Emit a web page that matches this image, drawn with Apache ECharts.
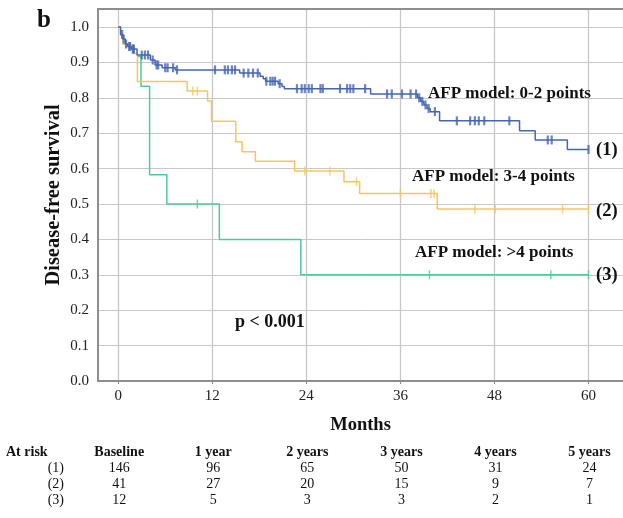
<!DOCTYPE html>
<html>
<head>
<meta charset="utf-8">
<script src="https://cdn.jsdelivr.net/npm/echarts@6/dist/echarts.min.js"></script>
<style>
  html, body { margin: 0; padding: 0; background: #fff; }
  #main { width: 623px; height: 518px; }
</style>
</head>
<body>
<div id="main"></div>
<script>
// month ticks and at-risk table
const months = [0, 12, 24, 36, 48, 60];
const riskHeaders = ["Baseline", "1 year", "2 years", "3 years", "4 years", "5 years"];
const riskLabels = ["(1)", "(2)", "(3)"];
const atRisk1 = [146, 96, 65, 50, 31, 24];
const atRisk2 = [41, 27, 20, 15, 9, 7];
const atRisk3 = [12, 5, 3, 3, 2, 1];

// KM steps [month, survival after the drop]
const steps1 = [
  [0, 1.0], [0.3, 0.979], [0.6, 0.966], [0.9, 0.952], [1.2, 0.945], [1.7, 0.938],
  [2.4, 0.921], [4.1, 0.907], [4.7, 0.893], [5.6, 0.885], [7.3, 0.879],
  [15.5, 0.870], [18.1, 0.861], [18.5, 0.854], [18.8, 0.847], [20.4, 0.840],
  [20.9, 0.832], [21.2, 0.826], [32.2, 0.811], [38.2, 0.800], [38.6, 0.790],
  [39.0, 0.780], [39.4, 0.770], [39.8, 0.761], [41.0, 0.735], [51.2, 0.707],
  [53.2, 0.681], [57.3, 0.654], [60, 0.654]
];
const steps2 = [
  [0, 1.0], [0.3, 0.976], [0.6, 0.951], [1.75, 0.925], [2.45, 0.846], [8.8, 0.819],
  [11.4, 0.791], [11.9, 0.734], [15.0, 0.676], [15.8, 0.648], [17.5, 0.621],
  [22.5, 0.593], [28.8, 0.563], [30.8, 0.530], [40.7, 0.486], [60, 0.486]
];
// green curve is only visible from about month 2.4 in the figure
const steps3 = [
  [2.4, 0.917], [2.9, 0.833], [4.0, 0.583], [6.2, 0.5], [12.9, 0.4],
  [23.3, 0.3], [60, 0.3]
];

// censored times
const censor1 = [
  0.5, 0.7, 1.0, 1.4, 1.5, 1.9, 2.0, 3.0, 3.4, 3.8, 4.4, 4.9, 5.1, 6.0, 6.3, 7.0, 7.5,
  12.35, 13.6, 14.0, 14.5, 14.9, 16.0, 16.6, 17.2, 17.8, 18.9, 19.4, 19.7, 20.0, 20.6,
  22.8, 23.4, 23.8, 24.3, 24.7, 25.8, 26.1, 28.3, 29.2, 29.6, 30.0, 31.5, 34.3, 34.9,
  36.2, 37.3, 38.0, 38.4, 38.8, 39.2, 39.6, 40.4, 43.2, 44.9, 45.5, 46.0, 46.7, 49.9,
  54.8, 55.3, 60.0
];
const censor2 = [9.5, 10.1, 23.8, 27.0, 30.4, 36.0, 39.9, 40.3, 45.5, 48.1, 56.7, 60.0];
const censor3 = [10.1, 39.7, 55.2, 60.0];

const BLUE = "#4565b1";
const YELLOW = "#f7c65a";
const GREEN = "#4ec99a";
const AXIS = "#8e8e8e";
const FONT = "Liberation Serif";
const X_MIN = -2.58, X_MAX = 64.4;

const survAt = (steps, t) => {
  let v = steps[0][1];
  steps.forEach((s) => {
    if (s[0] <= t) v = s[1];
  });
  return v;
};

const tickPath = "path://M0,0L1,0L1,10L0,10Z";

const stepSeries = (steps, color) => ({
  type: "line",
  step: "end",
  data: steps,
  symbol: "none",
  lineStyle: { color: color, width: 1.5 },
  z: 3,
});
const censorSeries = (times, steps, color, w) => ({
  type: "scatter",
  data: times.map((t) => [t, survAt(steps, t)]),
  symbol: tickPath,
  symbolSize: [w, 9],
  itemStyle: { color: color },
  z: 4,
});

const txt = (x, y, text, opt) => ({
  type: "text",
  x: x,
  y: y,
  style: Object.assign(
    { text: text, fontFamily: FONT, fontSize: 15, fill: "#111", align: "left", verticalAlign: "middle" },
    opt || {}
  ),
});

let chart = echarts.init(document.getElementById("main"));
let option = {
  animation: false,
  backgroundColor: "#fff",
  grid: { left: 98, top: 9, right: 0, bottom: 137 },
  xAxis: [
    {
      type: "value",
      min: X_MIN,
      max: X_MAX,
      name: "Months",
      nameLocation: "middle",
      nameGap: 35,
      nameTextStyle: { fontFamily: FONT, fontSize: 18.5, fontWeight: "bold", color: "#111" },
      axisLine: { show: true, onZero: false, lineStyle: { color: AXIS, width: 2 } },
      axisTick: { show: true, length: 3, customValues: months, lineStyle: { color: AXIS } },
      axisLabel: { customValues: months, margin: 8, fontFamily: FONT, fontSize: 15, color: "#222" },
      splitLine: { show: true, lineStyle: { color: "#c8c8c8", width: 1.3 } },
    },
    {
      type: "value",
      position: "top",
      min: X_MIN,
      max: X_MAX,
      axisLine: { show: true, onZero: false, lineStyle: { color: AXIS, width: 2 } },
      axisTick: { show: false },
      axisLabel: { show: false },
      splitLine: { show: false },
    },
  ],
  yAxis: {
    type: "value",
    min: 0,
    max: 1.051,
    interval: 0.1,
    name: "Disease-free survival",
    nameLocation: "middle",
    nameGap: 34,
    nameMoveOverlap: false,
    nameTextStyle: { fontFamily: FONT, fontSize: 20.5, fontWeight: "bold", color: "#111" },
    axisLine: { show: true, onZero: false, lineStyle: { color: AXIS, width: 2 } },
    axisTick: { show: false },
    axisLabel: {
      margin: 9, fontFamily: FONT, fontSize: 15, color: "#222",
      formatter: (v) => (v > 1.0001 ? "" : v.toFixed(1)),
    },
    splitLine: { show: true, lineStyle: { color: "#c8c8c8", width: 1 } },
  },
  series: [
    stepSeries(steps3, GREEN),
    stepSeries(steps2, YELLOW),
    stepSeries(steps1, BLUE),
    censorSeries(censor3, steps3, GREEN, 1.5),
    censorSeries(censor2, steps2, YELLOW, 1.5),
    censorSeries(censor1, steps1, BLUE, 2.2),
  ],
};
chart.setOption(option);

// annotations and at-risk table
const colX = months.map((m) => chart.convertToPixel({ xAxisIndex: 0 }, m));
const bold = { fontWeight: "bold", fontSize: 17 };
const elements = [
  txt(44, 21, "b", { fontSize: 25, fontWeight: "bold", align: "center" }),
  txt(428, 94, "AFP model: 0-2 points", bold),
  txt(412, 177, "AFP model: 3-4 points", bold),
  txt(415, 253, "AFP model: >4 points", bold),
  txt(596, 150, "(1)", { fontWeight: "bold", fontSize: 18.5 }),
  txt(596, 211, "(2)", { fontWeight: "bold", fontSize: 18.5 }),
  txt(596, 275, "(3)", { fontWeight: "bold", fontSize: 18.5 }),
  txt(235, 322, "p < 0.001", { fontWeight: "bold", fontSize: 18 }),
  txt(6, 452, "At risk", { fontWeight: "bold", fontSize: 14 }),
];
riskHeaders.forEach((hd, i) => {
  elements.push(txt(colX[i] + 1, 452, hd, { fontWeight: "bold", fontSize: 14, align: "center" }));
});
[atRisk1, atRisk2, atRisk3].forEach((row, r) => {
  const y = 468 + r * 16;
  elements.push(txt(64, y, riskLabels[r], { fontSize: 14, align: "right" }));
  row.forEach((n, i) => {
    elements.push(txt(colX[i] + 1, y, String(n), { fontSize: 14, align: "center" }));
  });
});
chart.setOption({ graphic: { elements: elements } });
</script>
</body>
</html>
